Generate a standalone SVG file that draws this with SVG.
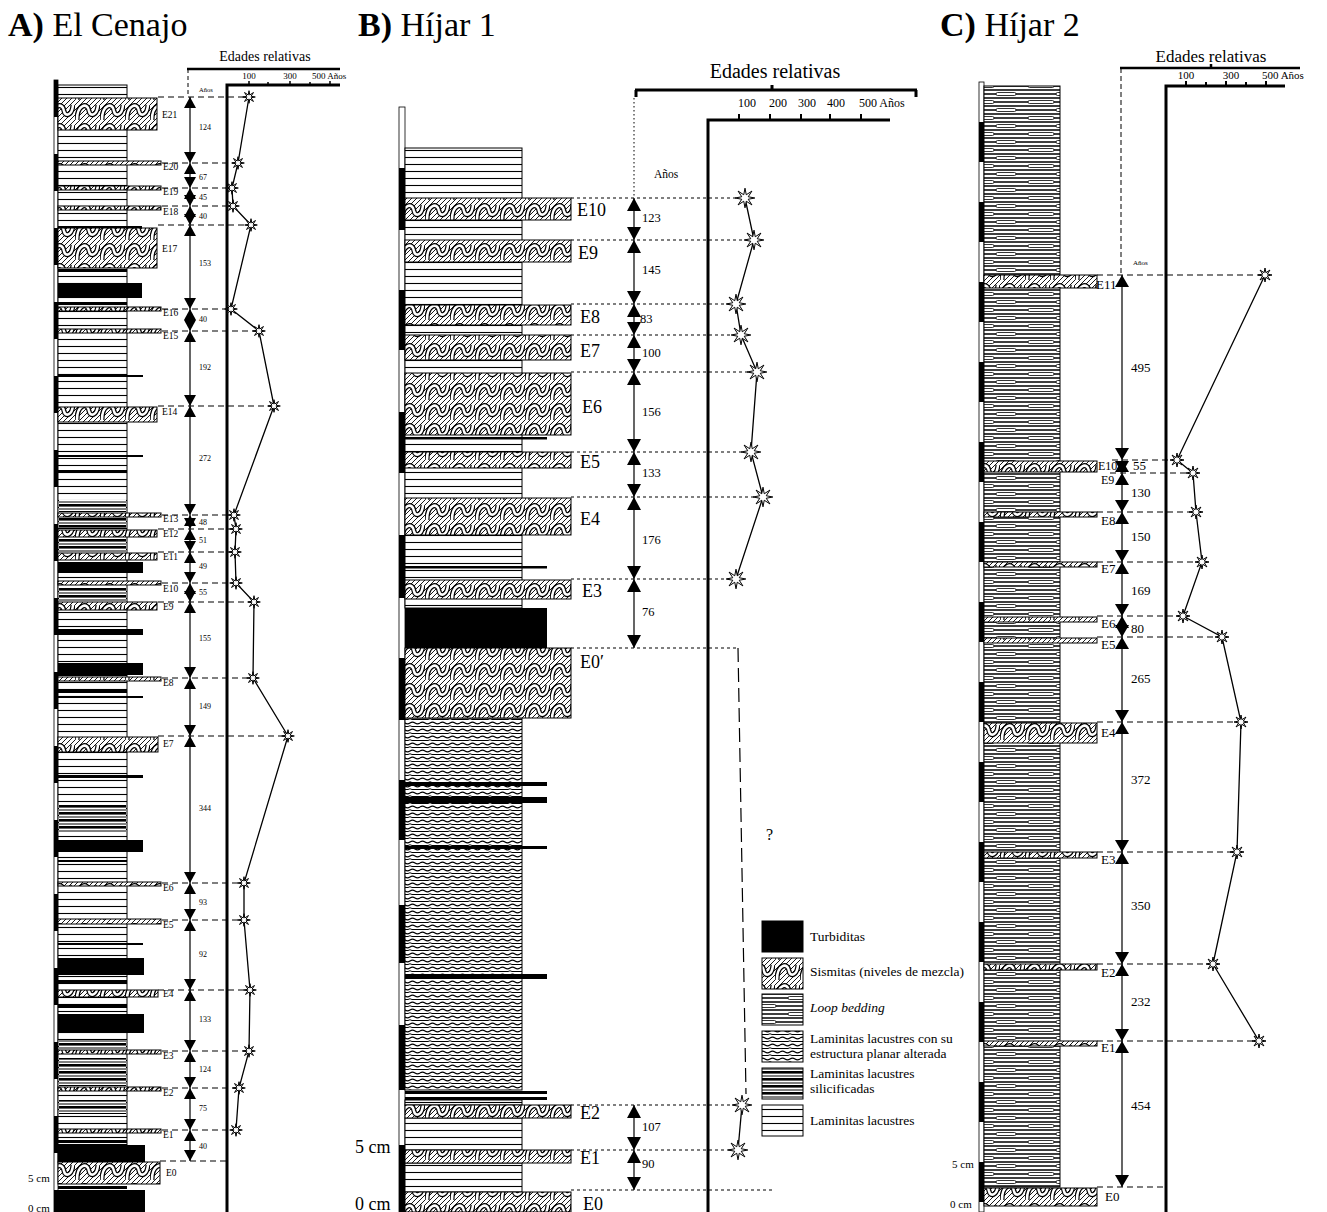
<svg xmlns="http://www.w3.org/2000/svg" width="1327" height="1212" viewBox="0 0 1327 1212">
<style>
text{font-family:"Liberation Serif","Times New Roman",serif;fill:#000}
.t{font-size:34px}
.ea{font-size:9.5px}
.eb{font-size:18px}
.ec{font-size:13px}
.na{font-size:8px}
.nb{font-size:12.5px}
.nc{font-size:13px}
.lg{font-size:13.5px}
.dA{stroke:#000;stroke-width:1.2;stroke-dasharray:6 4;fill:none}
.dB{stroke:#000;stroke-width:1.2;stroke-dasharray:3 3;fill:none}
.dC{stroke:#000;stroke-width:1.2;stroke-dasharray:6 4;fill:none}
.ax{stroke:#000;stroke-width:3;fill:none}
.sh{stroke:#000;stroke-width:1.2;fill:none}
.pl{stroke:#000;stroke-width:1.3;fill:none}
.bk{fill:#000}
.sis{fill:url(#pSis);stroke:#000;stroke-width:1}
.lam{fill:url(#pLam);stroke:#000;stroke-width:1}
.loop{fill:url(#pLoop);stroke:#000;stroke-width:1}
.wav{fill:url(#pWav);stroke:#000;stroke-width:1}
.sil{fill:url(#pSil)}
.sb{fill:#fff;stroke:#000;stroke-width:0.8}
</style>
<defs>
<pattern id="pSis" width="25" height="20" patternUnits="userSpaceOnUse">
<rect width="25" height="20" fill="#fff"/>
<path d="M0,5L5,0M0,10L10,0M0,15L15,0M0,20L20,0M5,20L25,0M10,20L25,5M15,20L25,10M20,20L25,15" stroke="#000" stroke-width="0.9"/>
<path d="M2,20C2,4 13,2 14,11C15,17 22,16 23,5" fill="none" stroke="#000" stroke-width="5"/>
<path d="M2,20C2,4 13,2 14,11C15,17 22,16 23,5" fill="none" stroke="#fff" stroke-width="2.6"/>
</pattern>
<pattern id="pLam" width="10" height="7" patternUnits="userSpaceOnUse">
<rect width="10" height="7" fill="#fff"/>
<path d="M0,3.5H10" stroke="#000" stroke-width="1.1"/>
</pattern>
<pattern id="pLoop" width="60" height="16" patternUnits="userSpaceOnUse">
<rect width="60" height="16" fill="#fff"/>
<path d="M0,2H60M0,6H60M0,10H60M0,14H60" stroke="#000" stroke-width="1.4"/>
<rect x="8" y="4.5" width="26" height="3" rx="1.5" fill="#fff" stroke="#000" stroke-width="0.8"/>
<rect x="36" y="12.5" width="20" height="3" rx="1.5" fill="#fff" stroke="#000" stroke-width="0.8"/>
</pattern>
<pattern id="pWav" width="20" height="7" patternUnits="userSpaceOnUse">
<rect width="20" height="7" fill="#fff"/>
<path d="M0,2q2.5,-1.8 5,0t5,0t5,0t5,0" fill="none" stroke="#000" stroke-width="1.2"/>
<path d="M0,5.5h8q2,-1.5 4,0h8" fill="none" stroke="#000" stroke-width="1"/>
</pattern>
<pattern id="pSil" width="10" height="7" patternUnits="userSpaceOnUse">
<rect width="10" height="7" fill="#fff"/>
<rect y="0" width="10" height="2.6" fill="#000"/>
<path d="M0,5H10" stroke="#000" stroke-width="1"/>
</pattern>
<path id="uA" d="M0,0L-6,11L6,11Z"/>
<path id="dA" d="M0,0L-6,-11L6,-11Z"/>
<path id="uB" d="M0,0L-7,13L7,13Z"/>
<path id="dB" d="M0,0L-7,-13L7,-13Z"/>
<path id="uC" d="M0,0L-7,12L7,12Z"/>
<path id="dC" d="M0,0L-7,-12L7,-12Z"/>
<path id="star" d="M7,0L2.3,0.9L4.95,4.95L0.9,2.3L0,7L-0.9,2.3L-4.95,4.95L-2.3,0.9L-7,0L-2.3,-0.9L-4.95,-4.95L-0.9,-2.3L0,-7L0.9,-2.3L4.95,-4.95L2.3,-0.9Z" fill="#fff" stroke="#000" stroke-width="1" vector-effect="non-scaling-stroke"/>
</defs>
<rect width="1327" height="1212" fill="#fff"/>

<!-- ================= PANEL A ================= -->
<g id="titleA"><text class="t" x="8" y="36"><tspan font-weight="bold">A)</tspan> El Cenajo</text></g>

<g id="columnA">
<rect class="sb" x="54" y="80" width="4" height="1132"/>
<path class="bk" d="M54,80h4v37h-4zM54,154h4v37h-4zM54,228h4v37h-4zM54,302h4v37h-4zM54,376h4v37h-4zM54,450h4v37h-4zM54,524h4v37h-4zM54,598h4v37h-4zM54,672h4v37h-4zM54,746h4v37h-4zM54,820h4v37h-4zM54,894h4v37h-4zM54,968h4v37h-4zM54,1042h4v37h-4zM54,1116h4v37h-4zM54,1190h4v22h-4z"/>
<rect class="lam" x="58" y="85" width="69" height="1077"/>
<rect class="sil" x="59" y="500" width="67" height="12"/>
<rect class="sil" x="59" y="518" width="67" height="10"/>
<rect class="sil" x="59" y="538" width="67" height="14"/>
<rect class="sil" x="59" y="588" width="67" height="13"/>
<rect class="sil" x="59" y="805" width="67" height="28"/>
<rect class="sil" x="59" y="1040" width="67" height="10"/>
<rect class="sil" x="59" y="1058" width="67" height="28"/>
<rect class="sil" x="59" y="1100" width="67" height="14"/>
<path class="bk" d="M58,270h69v2h-69zM58,302h69v2h-69zM58,470h69v2h-69zM58,690h69v3h-69zM58,860h69v2h-69zM58,980h69v3h-69zM58,1005h69v3h-69zM58,1140h69v3h-69zM58,1186h69v3h-69z"/>
<path class="bk" d="M58,226h84v3h-84zM58,375h85v2h-85zM58,455h85v2h-85zM58,696h85v2h-85zM58,775h85v3h-85zM58,943h85v2h-85z"/>
<rect class="bk" x="58" y="283" width="84" height="15"/>
<rect class="bk" x="58" y="562" width="85" height="11"/>
<rect class="bk" x="58" y="629" width="85" height="6"/>
<rect class="bk" x="58" y="663" width="85" height="12"/>
<rect class="bk" x="58" y="840" width="85" height="12"/>
<rect class="bk" x="58" y="958" width="86" height="17"/>
<rect class="bk" x="58" y="1014" width="86" height="19"/>
<rect class="bk" x="58" y="1145" width="87" height="17"/>
<rect class="bk" x="58" y="1190" width="87" height="22"/>
<text x="28" y="1182" style="font-size:11px">5 cm</text>
<text x="28" y="1212" style="font-size:11px">0 cm</text>
</g>

<g id="eventsA">
<g id="A-E21"><rect class="sis" x="58" y="98" width="99" height="32"/><text class="ea" x="162" y="118">E21</text></g>
<g id="A-E20"><rect class="sis" x="58" y="161" width="103" height="4"/><text class="ea" x="163" y="170">E20</text></g>
<g id="A-E19"><rect class="sis" x="58" y="186" width="103" height="4"/><text class="ea" x="163" y="195">E19</text></g>
<g id="A-E18"><rect class="sis" x="58" y="206" width="103" height="4"/><text class="ea" x="163" y="215">E18</text></g>
<g id="A-E17"><rect class="sis" x="58" y="228" width="99" height="40"/><text class="ea" x="162" y="252">E17</text></g>
<g id="A-E16"><rect class="sis" x="58" y="307" width="103" height="4"/><text class="ea" x="163" y="316">E16</text></g>
<g id="A-E15"><rect class="sis" x="58" y="329" width="103" height="4"/><text class="ea" x="163" y="339">E15</text></g>
<g id="A-E14"><rect class="sis" x="58" y="407" width="99" height="15"/><text class="ea" x="162" y="415">E14</text></g>
<g id="A-E13"><rect class="sis" x="58" y="513" width="103" height="4"/><text class="ea" x="163" y="522">E13</text></g>
<g id="A-E12"><rect class="sis" x="58" y="530" width="99" height="7"/><text class="ea" x="163" y="537">E12</text></g>
<g id="A-E11"><rect class="sis" x="58" y="553" width="99" height="7"/><text class="ea" x="163" y="560">E11</text></g>
<g id="A-E10"><rect class="sis" x="58" y="581" width="103" height="4"/><text class="ea" x="163" y="592">E10</text></g>
<g id="A-E9"><rect class="sis" x="58" y="602" width="99" height="8"/><text class="ea" x="163" y="610">E9</text></g>
<g id="A-E8"><rect class="sis" x="58" y="677" width="103" height="4"/><text class="ea" x="163" y="686">E8</text></g>
<g id="A-E7"><rect class="sis" x="58" y="737" width="100" height="15"/><text class="ea" x="163" y="747">E7</text></g>
<g id="A-E6"><rect class="sis" x="58" y="882" width="103" height="4"/><text class="ea" x="163" y="891">E6</text></g>
<g id="A-E5"><rect class="sis" x="58" y="919" width="103" height="5"/><text class="ea" x="163" y="928">E5</text></g>
<g id="A-E4"><rect class="sis" x="58" y="990" width="100" height="7"/><text class="ea" x="163" y="997">E4</text></g>
<g id="A-E3"><rect class="sis" x="58" y="1050" width="103" height="4"/><text class="ea" x="163" y="1059">E3</text></g>
<g id="A-E2"><rect class="sis" x="58" y="1087" width="103" height="4"/><text class="ea" x="163" y="1096">E2</text></g>
<g id="A-E1"><rect class="sis" x="58" y="1129" width="103" height="4"/><text class="ea" x="163" y="1138">E1</text></g>
<g id="A-E0"><rect class="sis" x="58" y="1162" width="102" height="22"/><text class="ea" x="166" y="1176">E0</text></g>
</g>

<g id="chartA">
<text x="265" y="61" text-anchor="middle" style="font-size:14px">Edades relativas</text>
<path d="M187,69H340" stroke="#000" stroke-width="2.5"/>
<path d="M188,69V97" stroke="#000" stroke-width="1" stroke-dasharray="4 3"/>
<path class="ax" d="M227,1212V85H340" stroke-width="2.5"/>
<path d="M249,81V85M268,82V85M290,81V85M310,82V85M330,81V85" stroke="#000" stroke-width="1.5"/>
<text x="249" y="79" text-anchor="middle" style="font-size:9px">100</text>
<text x="290" y="79" text-anchor="middle" style="font-size:9px">300</text>
<text x="312" y="79" style="font-size:9px">500 Años</text>
<text x="199" y="92" style="font-size:6.5px">Años</text>
<g class="na">
<text x="199" y="130">124</text><text x="199" y="180">67</text><text x="199" y="200">45</text><text x="199" y="219">40</text>
<text x="199" y="266">153</text><text x="199" y="322">40</text><text x="199" y="370">192</text><text x="199" y="461">272</text>
<text x="199" y="525">48</text><text x="199" y="543">51</text><text x="199" y="569">49</text><text x="199" y="595">55</text>
<text x="199" y="641">155</text><text x="199" y="709">149</text><text x="199" y="811">344</text><text x="199" y="905">93</text>
<text x="199" y="957">92</text><text x="199" y="1022">133</text><text x="199" y="1072">124</text><text x="199" y="1111">75</text>
<text x="199" y="1149">40</text>
</g>
</g>

<!-- ================= PANEL B ================= -->
<g id="titleB"><text class="t" x="358" y="36"><tspan font-weight="bold">B)</tspan> Híjar 1</text></g>

<g id="columnB">
<rect class="sb" x="399" y="107" width="6" height="1105"/>
<path class="bk" d="M399,168h6v62h-6zM399,290h6v60h-6zM399,412h6v61h-6zM399,535h6v63h-6zM399,658h6v62h-6zM399,780h6v60h-6zM399,905h6v58h-6zM399,1025h6v65h-6zM399,1145h6v67h-6z"/>
<rect class="lam" x="405" y="148" width="117" height="460"/>
<path class="bk" d="M405,437h142v2.5h-142zM405,566h142v2.5h-142z"/>
<rect class="bk" x="405" y="608" width="142" height="40"/>
<rect class="wav" x="405" y="718" width="117" height="372"/>
<path class="bk" d="M405,782h142v4h-142zM405,797h142v6h-142zM405,846h142v3h-142zM405,974h142v5h-142zM405,1091h142v3h-142zM405,1097h142v3h-142z"/>
<rect class="lam" x="405" y="1100" width="117" height="5"/>
<rect class="lam" x="405" y="1118" width="117" height="32"/>
<rect class="lam" x="405" y="1163" width="117" height="29"/>
<text x="355" y="1153" style="font-size:18px">5 cm</text>
<text x="355" y="1210" style="font-size:18px">0 cm</text>
</g>

<g id="eventsB">
<g id="B-E10"><rect class="sis" x="405" y="198" width="166" height="22"/><text class="eb" x="577" y="216">E10</text></g>
<g id="B-E9"><rect class="sis" x="405" y="240" width="166" height="22"/><text class="eb" x="578" y="259">E9</text></g>
<g id="B-E8"><rect class="sis" x="405" y="305" width="166" height="20"/><text class="eb" x="580" y="323">E8</text></g>
<g id="B-E7"><rect class="sis" x="405" y="335" width="166" height="25"/><text class="eb" x="580" y="357">E7</text></g>
<g id="B-E6"><rect class="sis" x="405" y="373" width="166" height="62"/><text class="eb" x="582" y="413">E6</text></g>
<g id="B-E5"><rect class="sis" x="405" y="452" width="166" height="16"/><text class="eb" x="580" y="468">E5</text></g>
<g id="B-E4"><rect class="sis" x="405" y="498" width="166" height="37"/><text class="eb" x="580" y="525">E4</text></g>
<g id="B-E3"><rect class="sis" x="405" y="580" width="166" height="19"/><text class="eb" x="582" y="597">E3</text></g>
<g id="B-E0p"><rect class="sis" x="405" y="648" width="166" height="70"/><text class="eb" x="580" y="668">E0′</text></g>
<g id="B-E2"><rect class="sis" x="405" y="1105" width="166" height="13"/><text class="eb" x="580" y="1119">E2</text></g>
<g id="B-E1"><rect class="sis" x="405" y="1150" width="166" height="13"/><text class="eb" x="580" y="1164">E1</text></g>
<g id="B-E0"><rect class="sis" x="405" y="1192" width="166" height="20"/><text class="eb" x="583" y="1210">E0</text></g>
</g>

<g id="chartB">
<text x="775" y="78" text-anchor="middle" style="font-size:20px">Edades relativas</text>
<path d="M635,90H917M636,90V97M916,90V97M772,90V85" stroke="#000" stroke-width="3" fill="none"/>
<path d="M634,98V198" stroke="#000" stroke-width="1" stroke-dasharray="1.5 2.5"/>
<path class="ax" d="M708,1212V120H890"/>
<path d="M739,114V120M770,114V120M801,114V120M830,114V120M861,114V120" stroke="#000" stroke-width="2"/>
<g style="font-size:12px">
<text x="747" y="107" text-anchor="middle">100</text><text x="778" y="107" text-anchor="middle">200</text>
<text x="807" y="107" text-anchor="middle">300</text><text x="836" y="107" text-anchor="middle">400</text>
<text x="859" y="107">500 Años</text>
</g>
<text x="654" y="178" style="font-size:11.5px">Años</text>
<text x="766" y="840" style="font-size:16px">?</text>
<g class="nb">
<text x="642" y="222">123</text><text x="642" y="274">145</text><text x="640" y="323">83</text><text x="642" y="357">100</text>
<text x="642" y="416">156</text><text x="642" y="477">133</text><text x="642" y="544">176</text><text x="642" y="616">76</text>
<text x="642" y="1131">107</text><text x="642" y="1168">90</text>
</g>
</g>

<g id="legend">
<g id="lg-turb"><rect x="762" y="921" width="41" height="31" fill="#000" stroke="#000"/><text class="lg" x="810" y="941">Turbiditas</text></g>
<g id="lg-sis"><rect class="sis" x="762" y="958" width="41" height="31"/><text class="lg" x="810" y="976">Sismitas (niveles de mezcla)</text></g>
<g id="lg-loop"><rect class="loop" x="762" y="994" width="41" height="31"/><text class="lg" x="810" y="1012" font-style="italic">Loop bedding</text></g>
<g id="lg-wav"><rect class="wav" x="762" y="1031" width="41" height="31"/><text class="lg" x="810" y="1043">Laminitas lacustres con su</text><text class="lg" x="810" y="1058">estructura planar alterada</text></g>
<g id="lg-sil"><rect class="sil" x="762" y="1068" width="41" height="31"/><rect x="762" y="1068" width="41" height="31" fill="none" stroke="#000"/><text class="lg" x="810" y="1078">Laminitas lacustres</text><text class="lg" x="810" y="1093">silicificadas</text></g>
<g id="lg-lam"><rect class="lam" x="762" y="1105" width="41" height="31"/><text class="lg" x="810" y="1125">Laminitas lacustres</text></g>
</g>

<!-- ================= PANEL C ================= -->
<g id="titleC"><text class="t" x="940" y="36"><tspan font-weight="bold">C)</tspan> Híjar 2</text></g>

<g id="columnC">
<rect class="sb" x="979" y="82" width="5" height="1130"/>
<path class="bk" d="M979,122h5v40h-5zM979,202h5v40h-5zM979,282h5v40h-5zM979,362h5v40h-5zM979,442h5v40h-5zM979,522h5v40h-5zM979,602h5v40h-5zM979,682h5v40h-5zM979,762h5v40h-5zM979,842h5v40h-5zM979,922h5v40h-5zM979,1002h5v40h-5zM979,1082h5v40h-5zM979,1162h5v40h-5z"/>
<rect class="loop" x="984" y="86" width="76" height="1101"/>
<text x="952" y="1168" style="font-size:11px">5 cm</text>
<text x="950" y="1208" style="font-size:11px">0 cm</text>
</g>

<g id="eventsC">
<g id="C-E11"><rect class="sis" x="984" y="275" width="113" height="13"/><text class="ec" x="1096" y="289">E11</text></g>
<g id="C-E10"><rect class="sis" x="984" y="461" width="113" height="11"/><text x="1098" y="470" style="font-size:12px">E10</text></g>
<g id="C-E9"><text x="1101" y="484" style="font-size:12px">E9</text></g>
<g id="C-E8"><rect class="sis" x="984" y="512" width="113" height="5"/><text class="ec" x="1101" y="525">E8</text></g>
<g id="C-E7"><rect class="sis" x="984" y="562" width="113" height="5"/><text class="ec" x="1101" y="573">E7</text></g>
<g id="C-E6"><rect class="sis" x="984" y="617" width="113" height="5"/><text class="ec" x="1101" y="628">E6</text></g>
<g id="C-E5"><rect class="sis" x="984" y="638" width="113" height="5"/><text class="ec" x="1101" y="649">E5</text></g>
<g id="C-E4"><rect class="sis" x="984" y="723" width="113" height="20"/><text class="ec" x="1101" y="737">E4</text></g>
<g id="C-E3"><rect class="sis" x="984" y="852" width="113" height="6"/><text class="ec" x="1101" y="864">E3</text></g>
<g id="C-E2"><rect class="sis" x="984" y="964" width="113" height="6"/><text class="ec" x="1101" y="977">E2</text></g>
<g id="C-E1"><rect class="sis" x="984" y="1041" width="113" height="5"/><text class="ec" x="1101" y="1052">E1</text></g>
<g id="C-E0"><rect class="sis" x="984" y="1188" width="113" height="18"/><text class="ec" x="1105" y="1201">E0</text></g>
</g>

<g id="chartC">
<text x="1211" y="62" text-anchor="middle" style="font-size:17px">Edades relativas</text>
<path d="M1120,68H1300M1211,68V64" stroke="#000" stroke-width="2.5" fill="none"/>
<path d="M1121,68V275" stroke="#000" stroke-width="1" stroke-dasharray="5 3"/>
<path class="ax" d="M1166,1212V86H1285"/>
<path d="M1186,81V86M1206,82V86M1226,81V86M1246,82V86M1266,81V86" stroke="#000" stroke-width="2"/>
<g style="font-size:11px">
<text x="1186" y="79" text-anchor="middle">100</text><text x="1231" y="79" text-anchor="middle">300</text>
<text x="1262" y="79">500 Años</text>
</g>
<text x="1133" y="265" style="font-size:7px">Años</text>
<g class="nc">
<text x="1131" y="372">495</text><text x="1133" y="470">55</text><text x="1131" y="497">130</text><text x="1131" y="541">150</text>
<text x="1131" y="595">169</text><text x="1131" y="633">80</text><text x="1131" y="683">265</text><text x="1131" y="784">372</text>
<text x="1131" y="910">350</text><text x="1131" y="1006">232</text><text x="1131" y="1110">454</text>
</g>
</g>

<!-- ================= CONNECTORS ================= -->
<g id="connectors">
<path class="dA" d="M158,97H249M162,163H238M162,188H232M162,206H233M158,225H251M162,309H231M162,331H259M158,406H274M162,515H234M158,529H236M158,552H235M162,583H236M158,602H254M162,678H253M158,736H288M162,883H244M162,920H244M158,990H250M162,1051H249M162,1088H239M162,1130H236M160,1161H227"/>
<path class="dB" d="M571,198H745M571,240H754M571,304H736M571,335H741M571,372H757M571,452H751M571,497H763M571,579H736M571,648H738M571,1105H742M571,1150H738M571,1190H775"/>
<path d="M738,648L746,1094" stroke="#000" stroke-width="1.2" stroke-dasharray="14 6" fill="none"/>
<path class="dC" d="M1097,275H1265M1112,460H1177M1110,473H1193M1097,512H1196M1097,562H1202M1097,616H1183M1097,637H1222M1097,722H1241M1097,852H1237M1097,964H1213M1097,1041H1259M1097,1187H1167"/>
<path class="sh" d="M190,97V1161M634,198V648M634,1105V1190M1122,275V1187"/>
<g fill="#000">
<use href="#uA" x="190" y="97"/><use href="#uA" x="190" y="163"/><use href="#uA" x="190" y="188"/><use href="#uA" x="190" y="206"/><use href="#uA" x="190" y="225"/><use href="#uA" x="190" y="309"/><use href="#uA" x="190" y="331"/><use href="#uA" x="190" y="406"/><use href="#uA" x="190" y="515"/><use href="#uA" x="190" y="529"/><use href="#uA" x="190" y="552"/><use href="#uA" x="190" y="583"/><use href="#uA" x="190" y="602"/><use href="#uA" x="190" y="678"/><use href="#uA" x="190" y="736"/><use href="#uA" x="190" y="883"/><use href="#uA" x="190" y="920"/><use href="#uA" x="190" y="990"/><use href="#uA" x="190" y="1051"/><use href="#uA" x="190" y="1088"/><use href="#uA" x="190" y="1130"/>
<use href="#dA" x="190" y="163"/><use href="#dA" x="190" y="188"/><use href="#dA" x="190" y="206"/><use href="#dA" x="190" y="225"/><use href="#dA" x="190" y="309"/><use href="#dA" x="190" y="331"/><use href="#dA" x="190" y="406"/><use href="#dA" x="190" y="515"/><use href="#dA" x="190" y="529"/><use href="#dA" x="190" y="552"/><use href="#dA" x="190" y="583"/><use href="#dA" x="190" y="602"/><use href="#dA" x="190" y="678"/><use href="#dA" x="190" y="736"/><use href="#dA" x="190" y="883"/><use href="#dA" x="190" y="920"/><use href="#dA" x="190" y="990"/><use href="#dA" x="190" y="1051"/><use href="#dA" x="190" y="1088"/><use href="#dA" x="190" y="1130"/><use href="#dA" x="190" y="1161"/>
<use href="#uB" x="634" y="198"/><use href="#uB" x="634" y="240"/><use href="#uB" x="634" y="304"/><use href="#uB" x="634" y="335"/><use href="#uB" x="634" y="372"/><use href="#uB" x="634" y="452"/><use href="#uB" x="634" y="497"/><use href="#uB" x="634" y="579"/><use href="#uB" x="634" y="1105"/><use href="#uB" x="634" y="1150"/>
<use href="#dB" x="634" y="240"/><use href="#dB" x="634" y="304"/><use href="#dB" x="634" y="335"/><use href="#dB" x="634" y="372"/><use href="#dB" x="634" y="452"/><use href="#dB" x="634" y="497"/><use href="#dB" x="634" y="579"/><use href="#dB" x="634" y="648"/><use href="#dB" x="634" y="1150"/><use href="#dB" x="634" y="1190"/>
<use href="#uC" x="1122" y="275"/><use href="#uC" x="1122" y="460"/><use href="#uC" x="1122" y="473"/><use href="#uC" x="1122" y="512"/><use href="#uC" x="1122" y="562"/><use href="#uC" x="1122" y="616"/><use href="#uC" x="1122" y="637"/><use href="#uC" x="1122" y="722"/><use href="#uC" x="1122" y="852"/><use href="#uC" x="1122" y="964"/><use href="#uC" x="1122" y="1041"/>
<use href="#dC" x="1122" y="460"/><use href="#dC" x="1122" y="473"/><use href="#dC" x="1122" y="512"/><use href="#dC" x="1122" y="562"/><use href="#dC" x="1122" y="616"/><use href="#dC" x="1122" y="637"/><use href="#dC" x="1122" y="722"/><use href="#dC" x="1122" y="852"/><use href="#dC" x="1122" y="964"/><use href="#dC" x="1122" y="1041"/><use href="#dC" x="1122" y="1187"/>
</g>
<polyline class="pl" points="249,97 238,163 232,188 233,206 251,225 231,309 259,331 274,406 234,515 236,529 235,552 236,583 254,602 253,678 288,736 244,883 244,920 250,990 249,1051 239,1088 236,1130"/>
<polyline class="pl" points="745,198 754,240 736,304 741,335 757,372 751,452 763,497 736,579"/>
<polyline class="pl" points="742,1105 738,1150"/>
<polyline class="pl" points="1265,275 1177,460 1193,473 1196,512 1202,562 1183,616 1222,637 1241,722 1237,852 1213,964 1259,1041"/>
<g>
<use href="#star" transform="translate(249,97) scale(0.9)"/><use href="#star" transform="translate(238,163) scale(0.9)"/><use href="#star" transform="translate(232,188) scale(0.9)"/><use href="#star" transform="translate(233,206) scale(0.9)"/><use href="#star" transform="translate(251,225) scale(0.9)"/><use href="#star" transform="translate(231,309) scale(0.9)"/><use href="#star" transform="translate(259,331) scale(0.9)"/><use href="#star" transform="translate(274,406) scale(0.9)"/><use href="#star" transform="translate(234,515) scale(0.9)"/><use href="#star" transform="translate(236,529) scale(0.9)"/><use href="#star" transform="translate(235,552) scale(0.9)"/><use href="#star" transform="translate(236,583) scale(0.9)"/><use href="#star" transform="translate(254,602) scale(0.9)"/><use href="#star" transform="translate(253,678) scale(0.9)"/><use href="#star" transform="translate(288,736) scale(0.9)"/><use href="#star" transform="translate(244,883) scale(0.9)"/><use href="#star" transform="translate(244,920) scale(0.9)"/><use href="#star" transform="translate(250,990) scale(0.9)"/><use href="#star" transform="translate(249,1051) scale(0.9)"/><use href="#star" transform="translate(239,1088) scale(0.9)"/><use href="#star" transform="translate(236,1130) scale(0.9)"/>
<use href="#star" transform="translate(745,198) scale(1.4)"/><use href="#star" transform="translate(754,240) scale(1.4)"/><use href="#star" transform="translate(736,304) scale(1.4)"/><use href="#star" transform="translate(741,335) scale(1.4)"/><use href="#star" transform="translate(757,372) scale(1.4)"/><use href="#star" transform="translate(751,452) scale(1.4)"/><use href="#star" transform="translate(763,497) scale(1.4)"/><use href="#star" transform="translate(736,579) scale(1.4)"/><use href="#star" transform="translate(742,1105) scale(1.4)"/><use href="#star" transform="translate(738,1150) scale(1.4)"/>
<use href="#star" transform="translate(1265,275)"/><use href="#star" transform="translate(1177,460)"/><use href="#star" transform="translate(1193,473)"/><use href="#star" transform="translate(1196,512)"/><use href="#star" transform="translate(1202,562)"/><use href="#star" transform="translate(1183,616)"/><use href="#star" transform="translate(1222,637)"/><use href="#star" transform="translate(1241,722)"/><use href="#star" transform="translate(1237,852)"/><use href="#star" transform="translate(1213,964)"/><use href="#star" transform="translate(1259,1041)"/>
</g>
</g>
</svg>
